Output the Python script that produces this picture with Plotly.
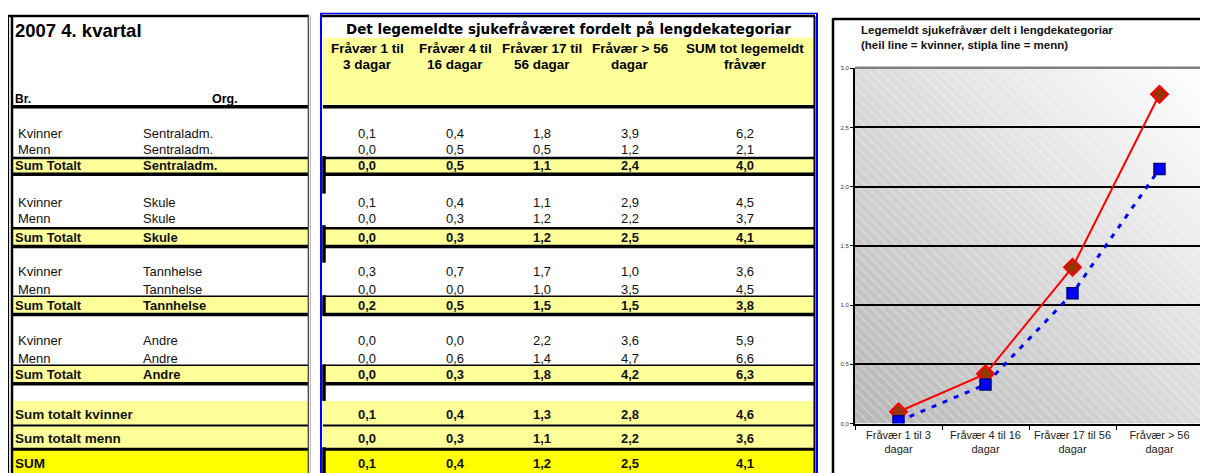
import base64
import plotly.graph_objects as go

# ---------------- data ----------------
categories = ["Fråvær 1 til 3 dagar", "Fråvær 4 til 16 dagar",
              "Fråvær 17 til 56 dagar", "Fråvær > 56 dagar"]
header_lines = [("Fråvær 1 til", "3 dagar"), ("Fråvær 4 til", "16 dagar"),
                ("Fråvær 17 til", "56 dagar"), ("Fråvær > 56", "dagar"),
                ("SUM tot legemeldt", "fråvær")]
orgs = ["Sentraladm.", "Skule", "Tannhelse", "Andre"]
kvinner_vals = [[0.1, 0.4, 1.8, 3.9, 6.2],
                [0.1, 0.4, 1.1, 2.9, 4.5],
                [0.3, 0.7, 1.7, 1.0, 3.6],
                [0.0, 0.0, 2.2, 3.6, 5.9]]
menn_vals = [[0.0, 0.5, 0.5, 1.2, 2.1],
             [0.0, 0.3, 1.2, 2.2, 3.7],
             [0.0, 0.0, 1.0, 3.5, 4.5],
             [0.0, 0.6, 1.4, 4.7, 6.6]]
sum_vals = [[0.0, 0.5, 1.1, 2.4, 4.0],
            [0.0, 0.3, 1.2, 2.5, 4.1],
            [0.2, 0.5, 1.5, 1.5, 3.8],
            [0.0, 0.3, 1.8, 4.2, 6.3]]
total_kvinner = [0.1, 0.4, 1.3, 2.8, 4.6]
total_menn = [0.0, 0.3, 1.1, 2.2, 3.6]
total_sum = [0.1, 0.4, 1.2, 2.5, 4.1]
chart_kvinner = [0.10, 0.42, 1.32, 2.78]
chart_menn = [0.02, 0.33, 1.10, 2.15]
y_ticks = [0.0, 0.5, 1.0, 1.5, 2.0, 2.5, 3.0]

# ---------------- layout helpers ----------------
# the page body has an 8px margin: the figure starts at page (8, 8)
OFF = 8
W, H = 1200, 465
def X(px): return (px - OFF) / W
def Y(py): return 1 - (py - OFF) / H

FONT = "Liberation Sans, Arial, sans-serif"
shapes, annos = [], []

def line(x0, y0, x1, y1, w, color="black"):
    shapes.append(dict(type="line", xref="paper", yref="paper", x0=X(x0), x1=X(x1),
                       y0=Y(y0), y1=Y(y1), line=dict(color=color, width=w), layer="above"))

def rect(x0, y0, x1, y1, fill):
    shapes.append(dict(type="rect", xref="paper", yref="paper", x0=X(x0), x1=X(x1),
                       y0=Y(y0), y1=Y(y1), fillcolor=fill, line=dict(width=0), layer="below"))

def txt(x, y, s, size=13, bold=False, anchor="left", color="#111", family=FONT):
    annos.append(dict(xref="paper", yref="paper", x=X(x), y=Y(y), text=("<b>%s</b>" % s) if bold else s,
                      xanchor=anchor, yanchor="middle", showarrow=False, borderpad=0, borderwidth=0,
                      font=dict(size=size, color=color, family=family)))

def fmt(v): return ("%.1f" % v).replace(".", ",")

LY = "#FFFF99"
BY = "#FFFF00"
L0, L1 = 12, 308      # left panel inner
M0, M1 = 323, 815     # middle panel inner
col_x = [367, 455, 542, 630, 745]

# ---------------- left + middle panels ----------------
rect(M0, 35, M1, 103, LY)
groups = [(132, 148, 157, 172, 2.5), (202, 218, 228, 245, 2.5),
          (272, 290, 297, 314, 1.5), (342, 360, 367, 384, 1.5)]
for g, (yk, ym, yt, yb, tw) in enumerate(groups):
    rect(L0 + 1, yt, L1, yb, LY)
    rect(M0 + 2, yt, M1, yb, LY)
    for (a, b) in [(L0, L1), (M0, M1)]:
        line(a, yt, b, yt, tw)
        line(a, yb + 1.5, b, yb + 1.5, 3.5)
    ys = (yt + yb) / 2 + 0.5
    txt(18, yk, "Kvinner"); txt(143, yk, orgs[g])
    txt(18, ym, "Menn"); txt(143, ym, orgs[g])
    txt(15, ys, "Sum Totalt", bold=True); txt(143, ys, orgs[g], bold=True)
    for c in range(5):
        txt(col_x[c], yk, fmt(kvinner_vals[g][c]), anchor="center")
        txt(col_x[c], ym, fmt(menn_vals[g][c]), anchor="center")
        txt(col_x[c], ys, fmt(sum_vals[g][c]), anchor="center", bold=True)

for (a, b) in [(L0 + 1, L1), (M0, M1)]:
    rect(a, 403, b, 428, LY)
    rect(a, 429, b, 452, LY)
    rect(a, 453, b, 480, BY)
for (a, b) in [(L0, L1), (M0, M1)]:
    line(a, 428, b, 428, 2)
    line(a, 452, b, 452, 3)
for label, vals, yy in [("Sum totalt kvinner", total_kvinner, 417),
                        ("Sum totalt menn", total_menn, 441),
                        ("SUM", total_sum, 466)]:
    txt(15, yy, label, bold=True, size=13.5)
    for c in range(5):
        txt(col_x[c], yy, fmt(vals[c]), anchor="center", bold=True)

txt(15, 28, "2007 4. kvartal", size=18.5, bold=True, color="#000")
txt(15, 97, "Br.", size=12, bold=True, color="#000")
txt(212, 97, "Org.", size=12.5, bold=True, color="#000")
txt(568, 26, "Det legemeldte sjukefråværet fordelt på lengdekategoriar", size=13.5, bold=True,
    anchor="center", color="#000", family="DejaVu Sans, sans-serif")
for c, (l1, l2) in enumerate(header_lines):
    txt(col_x[c], 46, l1, size=13.5, bold=True, anchor="center", color="#000")
    txt(col_x[c], 62, l2, size=13.5, bold=True, anchor="center", color="#000")

line(L0, 105, L1, 105, 3.5)
line(M0, 105, M1, 105, 3.5)
line(8.5, 12, 8.5, 480, 1.2)
line(12, 12, 12, 480, 2.5)
line(8, 13, 309, 13, 2.5)
line(308.3, 12, 308.3, 480, 1.3, "#444")
line(310.3, 12, 310.3, 480, 1, "#aaa")
line(321, 10, 321, 480, 2, "#0000FF")
line(817, 10, 817, 480, 2, "#0000FF")
line(320, 10.5, 818, 10.5, 1.5, "#0000FF")
line(322, 13, 815, 13, 2.5)
line(814.5, 13, 814.5, 480, 2)
for (a, b) in [(155, 193), (225, 263), (296, 317), (366, 403), (450, 480)]:
    line(324, a, 324, b, 3.5)

# ---------------- chart ----------------
px0, px1, py0, py1 = 855, 1203, 66, 426
svg = ("<svg xmlns='http://www.w3.org/2000/svg' width='348' height='360'>"
       "<defs><linearGradient id='g' x1='0' y1='1' x2='1' y2='0'>"
       "<stop offset='0' stop-color='#b6b6b6'/><stop offset='1' stop-color='#ffffff'/></linearGradient>"
       "<pattern id='p' width='7' height='7' patternUnits='userSpaceOnUse' patternTransform='rotate(-45)'>"
       "<line x1='1' y1='0' x2='1' y2='7' stroke='#ffffff' stroke-opacity='0.45' stroke-width='1'/></pattern></defs>"
       "<rect width='348' height='360' fill='url(#g)'/><rect width='348' height='360' fill='url(#p)'/></svg>")
uri = "data:image/svg+xml;base64," + base64.b64encode(svg.encode()).decode()

fig = go.Figure()
fig.add_trace(go.Scatter(x=categories, y=chart_kvinner, mode="lines+markers", name="Kvinner",
                         line=dict(color="#FF0000", width=2),
                         marker=dict(symbol="diamond", size=13, color="#993300",
                                     line=dict(color="#FF0000", width=2))))
fig.add_trace(go.Scatter(x=categories, y=chart_menn, mode="lines+markers", name="Menn",
                         line=dict(color="#0000FF", width=3, dash="5px,7px"),
                         marker=dict(symbol="square", size=11, color="#0000FF",
                                     line=dict(color="#000080", width=1.5))))

line(833, 16, 1215, 16, 2.5)
line(833, 15, 833, 480, 2.5)
line(855, 65.5, 1203, 65.5, 2.5, "#808080")
line(1202.5, 65, 1202.5, 426, 2.5, "#808080")
annos.append(dict(xref="paper", yref="paper", x=X(861), y=Y(21), xanchor="left", yanchor="top",
                  align="left", showarrow=False, borderpad=0, borderwidth=0,
                  text="<b>Legemeldt sjukefråvær delt i lengdekategoriar<br>(heil line = kvinner, stipla line = menn)</b>",
                  font=dict(size=11.5, color="#111", family=FONT)))

fig.update_layout(
    width=W, height=H, margin=dict(l=0, r=0, t=0, b=0), autosize=False,
    paper_bgcolor="white", plot_bgcolor="rgba(0,0,0,0)",
    showlegend=False, separators=", ",
    shapes=shapes, annotations=annos,
    images=[dict(source=uri, xref="paper", yref="paper", x=X(px0), y=Y(py0),
                 sizex=(px1 - px0) / W, sizey=(py1 - py0) / H, sizing="stretch",
                 xanchor="left", yanchor="top", layer="below")],
    xaxis=dict(domain=[X(px0), X(px1)], type="category", categoryorder="array",
               categoryarray=categories, range=[-0.5, 3.5], autorange=False,
               tickson="boundaries", ticks="outside", ticklen=4,
               tickcolor="black", showline=True, linecolor="black", linewidth=2,
               showgrid=False, tickmode="array", tickvals=categories,
               ticktext=[c.replace(" dagar", "<br>dagar") for c in categories],
               tickfont=dict(size=11, color="#222", family=FONT), fixedrange=True),
    yaxis=dict(domain=[Y(py1), Y(py0)], range=[0, 3], tickmode="array", tickvals=y_ticks,
               ticktext=[fmt(v) for v in y_ticks],
               showgrid=True, gridcolor="black", gridwidth=1.5, zeroline=False,
               showline=True, linecolor="black", linewidth=2, ticks="outside", ticklen=3,
               tickcolor="black", tickfont=dict(size=6, color="#333", family=FONT), fixedrange=True),
)
fig.write_html("out.html")
